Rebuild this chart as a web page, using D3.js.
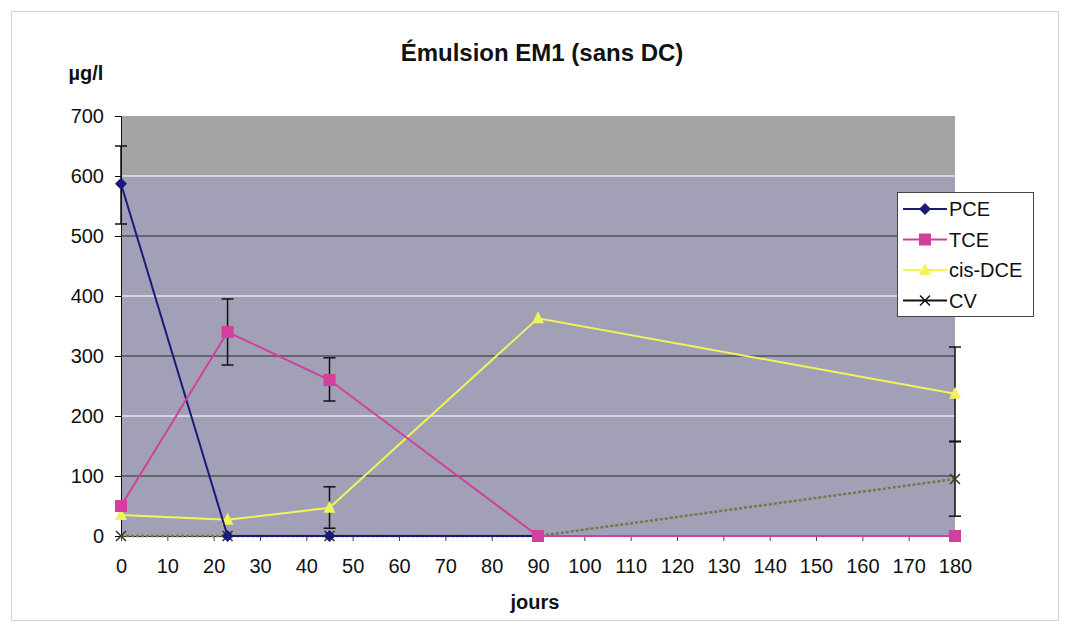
<!DOCTYPE html>
<html>
<head>
<meta charset="utf-8">
<script src="https://cdn.jsdelivr.net/npm/d3@7"></script>
<style>
  body { margin: 0; background: #fff; }
  text { font-family: "Liberation Sans", Arial, sans-serif; }
</style>
</head>
<body>
<div id="container"></div>
<script>
/* DATA */
const days = [0, 23, 45, 90, 180];
const pce = [587, 0, 0, 0, 0];
const tce = [50, 340, 260, 0, 0];
const cisDce = [35, 27, 47, 363, 237];
const cv = [0, 0, 0, 0, 95];
// error bars: [day, low, high]
const pceErr = [[0, 520, 650]];
const tceErr = [[23, 285, 395], [45, 225, 297]];
const cisDceErr = [[45, 13, 82], [180, 157, 315]];
const cvErr = [[180, 33, 158]];
const xTicks = d3.range(0, 181, 10);
const yTicks = d3.range(0, 701, 100);

/* CONSTANTS */
const width = 1068;
const height = 631;
const margin = { left: 121, right: 113, top: 116, bottom: 95 };

const svg = d3.select("#container")
  .append("svg")
  .attr("width", width)
  .attr("height", height);

// outer frame
svg.append("rect")
  .attr("x", 11.5).attr("y", 11.5)
  .attr("width", 1047).attr("height", 609)
  .attr("fill", "#fff")
  .attr("stroke", "#d4d4d4");

// SCALES
const x = d3.scaleLinear().domain([0, 180]).range([margin.left, width - margin.right]);
const y = d3.scaleLinear().domain([0, 700]).range([height - margin.bottom, margin.top]);

// plot background
svg.append("rect")
  .attr("x", x(0)).attr("y", y(700))
  .attr("width", x(180) - x(0)).attr("height", y(600) - y(700))
  .attr("fill", "#a4a4a6");
svg.append("rect")
  .attr("x", x(0)).attr("y", y(600))
  .attr("width", x(180) - x(0)).attr("height", y(0) - y(600))
  .attr("fill", "#a1a0b6");

// gridlines
svg.append("g")
  .selectAll("line")
  .data(yTicks.filter(d => d > 0 && d < 700))
  .enter()
  .append("line")
  .attr("x1", x(0)).attr("x2", x(180))
  .attr("y1", d => y(d)).attr("y2", d => y(d))
  .attr("stroke", d => (d / 100) % 2 === 1 ? "#2a2a2a" : "#e6e6ec")
  .attr("stroke-width", d => (d / 100) % 2 === 1 ? 1 : 1.5);

// AXES
const yAxis = svg.append("g")
  .attr("transform", `translate(${x(0)},0)`)
  .call(d3.axisLeft(y).tickValues(yTicks).tickSize(6).tickPadding(11));
yAxis.select(".domain").attr("stroke", "#111");
yAxis.selectAll("text").attr("font-size", 20).attr("fill", "#111");

const xAxis = svg.append("g")
  .attr("transform", `translate(0,${y(0)})`)
  .call(d3.axisBottom(x).tickValues(xTicks).tickSize(5).tickPadding(18));
xAxis.select(".domain").attr("stroke", "#222");
xAxis.selectAll(".tick line").attr("stroke", "#444");
xAxis.selectAll("text").attr("font-size", 20).attr("fill", "#111");

// titles
svg.append("text")
  .attr("x", 542).attr("y", 61)
  .attr("text-anchor", "middle")
  .attr("font-size", 24).attr("font-weight", "bold").attr("fill", "#111")
  .text("Émulsion EM1 (sans DC)");
svg.append("text")
  .attr("x", 86).attr("y", 80)
  .attr("text-anchor", "middle")
  .attr("font-size", 20).attr("font-weight", "bold").attr("fill", "#111")
  .text("µg/l");
svg.append("text")
  .attr("x", 535).attr("y", 609)
  .attr("text-anchor", "middle")
  .attr("font-size", 20).attr("font-weight", "bold").attr("fill", "#111")
  .text("jours");

// SERIES
const series = [
  { name: "PCE", values: pce, err: pceErr, color: "#1a1a78", marker: "diamond", dash: null },
  { name: "TCE", values: tce, err: tceErr, color: "#d2409e", marker: "square", dash: null },
  { name: "cis-DCE", values: cisDce, err: cisDceErr, color: "#f2f25a", marker: "triangle", dash: null },
  { name: "CV", values: cv, err: cvErr, color: "#7c7548", marker: "cross", dash: "3,2" }
];

const line = d3.line().x(d => x(d[0])).y(d => y(d[1]));

// error bars
series.forEach(s => {
  const g = svg.append("g");
  g.selectAll("line.v")
    .data(s.err).enter().append("line")
    .attr("x1", d => x(d[0])).attr("x2", d => x(d[0]))
    .attr("y1", d => y(d[1])).attr("y2", d => y(d[2]))
    .attr("stroke", "#111").attr("stroke-width", 1.5);
  [1, 2].forEach(k => {
    g.selectAll("line.c" + k)
      .data(s.err).enter().append("line")
      .attr("x1", d => x(d[0]) - 6).attr("x2", d => x(d[0]) + 6)
      .attr("y1", d => y(d[k])).attr("y2", d => y(d[k]))
      .attr("stroke", "#111").attr("stroke-width", 1.5);
  });
});

function drawMarker(g, type, cx, cy, color) {
  if (type === "diamond") {
    g.append("path").attr("d", `M${cx},${cy - 6}L${cx + 6},${cy}L${cx},${cy + 6}L${cx - 6},${cy}Z`).attr("fill", color);
  } else if (type === "square") {
    g.append("rect").attr("x", cx - 6).attr("y", cy - 6).attr("width", 12).attr("height", 12).attr("fill", color);
  } else if (type === "triangle") {
    g.append("path").attr("d", `M${cx},${cy - 7}L${cx + 6},${cy + 5}L${cx - 6},${cy + 5}Z`).attr("fill", color);
  } else {
    g.append("path").attr("d", `M${cx - 5},${cy - 5}L${cx + 5},${cy + 5}M${cx - 5},${cy + 5}L${cx + 5},${cy - 5}`)
      .attr("stroke", color).attr("stroke-width", 1.5).attr("fill", "none");
  }
}

// lines drawn back to front: CV, cis-DCE, PCE, TCE
[series[3], series[2], series[0], series[1]].forEach(s => {
  const pts = days.map((d, i) => [d, s.values[i]]);
  svg.append("path")
    .datum(pts)
    .attr("d", line)
    .attr("fill", "none")
    .attr("stroke", s.color)
    .attr("stroke-width", s.marker === "cross" ? 2.5 : 2)
    .attr("stroke-dasharray", s.dash);
  const g = svg.append("g");
  pts.forEach(p => drawMarker(g, s.marker, x(p[0]), y(p[1]), s.marker === "cross" ? "#3a3520" : s.color));
});

// LEGEND
const lg = svg.append("g").attr("transform", "translate(897,192)");
lg.append("rect")
  .attr("x", 0.5).attr("y", 0.5).attr("width", 136).attr("height", 124)
  .attr("fill", "#fff").attr("stroke", "#444");
const legendColors = ["#1a1a78", "#d2409e", "#f2f25a", "#111"];
series.forEach((s, i) => {
  const ly = 17 + i * 30.5;
  lg.append("line")
    .attr("x1", 6).attr("x2", 50).attr("y1", ly).attr("y2", ly)
    .attr("stroke", legendColors[i]).attr("stroke-width", 2);
  drawMarker(lg, s.marker, 28, ly, legendColors[i]);
  lg.append("text")
    .attr("x", 52).attr("y", ly + 7)
    .attr("font-size", 20).attr("fill", "#111")
    .text(s.name);
});
</script>
</body>
</html>
